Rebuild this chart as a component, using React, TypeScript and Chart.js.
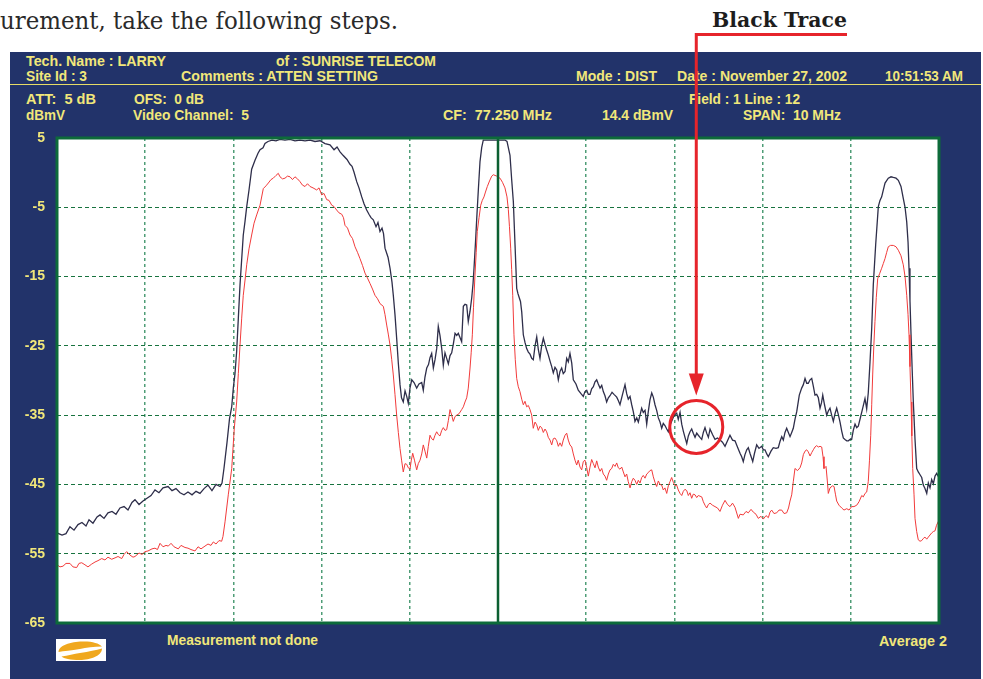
import React, { useEffect, useRef } from "react";
import { Chart, registerables } from "chart.js";

Chart.register(...registerables);

// ---- data ----
const startFreqMHz = 72.25;
const stopFreqMHz = 82.25;
const centerFreqMHz = 77.25;
const refLevel = 5;
const bottomLevel = -65;
const levelTicks = [5, -5, -15, -25, -35, -45, -55, -65];
const gridFreqs = [72.25, 73.25, 74.25, 75.25, 76.25, 77.25, 78.25, 79.25, 80.25, 81.25, 82.25];
const highlightFreq = 79.498;
const highlightLevel = -36.7;

// Black trace: [frequency MHz, level dBmV]
const blackTrace: [number, number][] = [
  [72.250,-52.0],[72.307,-52.3],[72.352,-52.1],[72.397,-51.1],[72.443,-51.6],[72.488,-50.8],[72.533,-50.5],[72.579,-51.0],[72.613,-50.1],[72.658,-50.6],
  [72.704,-49.7],[72.738,-49.4],[72.783,-49.9],[72.828,-49.1],[72.874,-48.9],[72.919,-49.3],[72.964,-48.4],[73.010,-48.2],[73.055,-48.7],[73.100,-47.6],
  [73.134,-47.2],[73.180,-47.9],[73.225,-47.4],[73.270,-47.0],[73.316,-46.6],[73.361,-45.8],[73.406,-46.2],[73.452,-45.5],[73.509,-45.3],[73.554,-45.9],
  [73.599,-45.6],[73.645,-46.2],[73.690,-46.5],[73.735,-46.1],[73.781,-46.5],[73.826,-46.0],[73.871,-46.3],[73.917,-45.6],[73.962,-45.1],[74.007,-45.9],
  [74.053,-45.0],[74.098,-45.3],[74.121,-44.8],[74.143,-42.7],[74.177,-39.0],[74.206,-35.5],[74.231,-33.8],[74.249,-31.1],[74.268,-29.0],[74.287,-25.8],
  [74.306,-21.0],[74.325,-16.2],[74.344,-12.5],[74.362,-9.0],[74.382,-7.0],[74.401,-4.9],[74.427,-2.5],[74.457,0.5],[74.495,1.8],[74.529,2.8],
  [74.552,3.3],[74.586,3.6],[74.608,4.2],[74.642,4.5],[74.688,4.7],[74.733,4.6],[74.778,4.8],[74.835,4.7],[74.892,4.8],[74.948,4.6],
  [75.005,4.7],[75.062,4.6],[75.119,4.7],[75.175,4.5],[75.232,4.6],[75.289,4.2],[75.345,4.0],[75.391,3.3],[75.425,3.7],[75.459,3.0],
  [75.493,2.5],[75.538,1.9],[75.572,1.2],[75.595,0.9],[75.617,0.1],[75.648,-1.3],[75.674,-2.2],[75.705,-3.5],[75.731,-4.5],[75.761,-5.4],
  [75.787,-6.0],[75.810,-6.5],[75.836,-6.8],[75.867,-7.8],[75.889,-7.2],[75.912,-8.5],[75.935,-8.0],[75.952,-8.8],[75.969,-10.9],[76.003,-12.2],
  [76.026,-13.8],[76.048,-15.8],[76.063,-17.7],[76.082,-20.5],[76.101,-23.9],[76.120,-27.5],[76.139,-30.6],[76.156,-32.5],[76.176,-33.1],[76.196,-31.5],
  [76.215,-32.3],[76.233,-33.3],[76.252,-31.1],[76.272,-29.9],[76.298,-30.3],[76.328,-31.1],[76.354,-30.5],[76.385,-30.3],[76.403,-31.4],[76.422,-29.5],
  [76.442,-28.2],[76.462,-27.7],[76.479,-26.7],[76.498,-26.1],[76.517,-28.2],[76.536,-27.0],[76.555,-25.4],[76.573,-22.2],[76.592,-23.5],[76.612,-25.4],
  [76.630,-27.8],[76.649,-26.0],[76.668,-26.8],[76.687,-27.6],[76.706,-26.4],[76.725,-26.0],[76.743,-24.8],[76.763,-23.2],[76.782,-23.5],[76.800,-23.2],
  [76.819,-23.8],[76.838,-24.4],[76.857,-19.3],[76.876,-19.0],[76.895,-19.1],[76.913,-21.5],[76.933,-20.0],[76.952,-18.1],[76.967,-16.0],[76.978,-13.8],
  [76.995,-10.0],[77.009,-6.6],[77.027,-2.5],[77.046,1.6],[77.065,3.6],[77.083,4.7],[77.159,4.7],[77.250,4.7],[77.329,4.7],[77.352,4.5],
  [77.386,2.5],[77.405,-1.0],[77.424,-4.2],[77.443,-10.4],[77.462,-16.7],[77.477,-17.5],[77.492,-18.1],[77.505,-18.6],[77.519,-20.1],[77.537,-23.4],
  [77.556,-24.5],[77.575,-25.4],[77.594,-25.9],[77.613,-26.2],[77.632,-26.8],[77.650,-27.0],[77.670,-25.0],[77.689,-23.7],[77.707,-25.5],[77.726,-26.8],
  [77.745,-25.0],[77.764,-23.9],[77.783,-24.8],[77.802,-25.6],[77.820,-26.3],[77.840,-27.2],[77.859,-28.0],[77.877,-28.9],[77.896,-28.1],[77.916,-28.5],
  [77.934,-29.9],[77.953,-28.7],[77.972,-28.2],[77.990,-29.0],[78.010,-28.7],[78.029,-26.8],[78.047,-27.3],[78.066,-26.1],[78.086,-27.5],[78.104,-29.9],
  [78.134,-30.5],[78.160,-31.4],[78.191,-31.9],[78.217,-32.3],[78.236,-31.6],[78.256,-31.4],[78.274,-32.0],[78.293,-32.0],[78.312,-31.2],[78.331,-30.9],
  [78.350,-30.2],[78.369,-29.9],[78.387,-30.5],[78.407,-31.1],[78.426,-30.7],[78.444,-31.6],[78.463,-32.2],[78.482,-33.1],[78.501,-32.5],[78.520,-32.2],
  [78.543,-31.7],[78.565,-32.0],[78.596,-32.4],[78.614,-32.9],[78.633,-33.5],[78.662,-32.0],[78.690,-30.6],[78.709,-31.9],[78.727,-32.7],[78.747,-32.3],
  [78.766,-33.5],[78.784,-34.5],[78.803,-35.9],[78.823,-35.4],[78.841,-36.0],[78.860,-35.0],[78.879,-34.0],[78.897,-34.6],[78.917,-34.3],[78.936,-36.3],
  [78.954,-34.5],[78.973,-32.8],[78.993,-31.8],[79.011,-32.4],[79.030,-33.5],[79.049,-34.3],[79.068,-35.4],[79.087,-36.0],[79.106,-36.9],[79.124,-36.2],
  [79.143,-36.5],[79.163,-37.0],[79.181,-37.4],[79.200,-36.5],[79.219,-35.9],[79.238,-35.3],[79.257,-34.9],[79.276,-34.7],[79.294,-35.6],[79.314,-34.6],
  [79.333,-36.3],[79.351,-37.3],[79.370,-38.2],[79.390,-39.1],[79.408,-38.0],[79.427,-37.4],[79.446,-37.0],[79.464,-37.6],[79.484,-38.2],[79.503,-37.6],
  [79.521,-37.9],[79.540,-38.2],[79.560,-38.5],[79.578,-37.5],[79.597,-36.8],[79.616,-37.6],[79.635,-38.2],[79.654,-37.0],[79.682,-37.8],[79.710,-38.5],
  [79.739,-38.3],[79.767,-38.6],[79.795,-38.9],[79.824,-39.5],[79.852,-38.7],[79.880,-37.9],[79.909,-38.6],[79.937,-38.7],[79.965,-39.6],[79.994,-40.5],
  [80.013,-41.0],[80.031,-41.7],[80.050,-40.7],[80.070,-40.0],[80.088,-39.7],[80.107,-40.5],[80.138,-41.7],[80.158,-40.5],[80.183,-39.3],[80.209,-39.8],
  [80.240,-39.5],[80.258,-40.0],[80.277,-40.0],[80.297,-40.6],[80.315,-41.0],[80.345,-40.2],[80.371,-39.7],[80.402,-39.8],[80.428,-39.7],[80.447,-38.8],
  [80.467,-38.1],[80.485,-38.6],[80.504,-37.5],[80.523,-36.9],[80.542,-37.5],[80.561,-38.1],[80.580,-37.5],[80.598,-36.9],[80.617,-35.6],[80.637,-34.5],
  [80.655,-33.0],[80.666,-32.1],[80.693,-31.1],[80.712,-30.6],[80.731,-29.7],[80.750,-30.4],[80.768,-30.4],[80.788,-29.9],[80.807,-29.7],[80.825,-30.8],
  [80.844,-32.1],[80.863,-32.0],[80.882,-32.5],[80.901,-34.0],[80.918,-33.2],[80.932,-32.1],[80.952,-33.5],[80.977,-35.0],[80.995,-34.4],[81.014,-34.0],
  [81.033,-35.0],[81.052,-35.9],[81.071,-34.8],[81.090,-34.0],[81.108,-34.9],[81.128,-36.0],[81.147,-37.3],[81.165,-38.3],[81.184,-38.5],[81.204,-38.7],
  [81.222,-38.7],[81.241,-38.5],[81.260,-38.5],[81.278,-37.2],[81.298,-36.3],[81.317,-36.8],[81.335,-36.6],[81.360,-35.3],[81.385,-34.0],[81.411,-32.6],
  [81.430,-34.1],[81.448,-31.8],[81.468,-27.3],[81.487,-22.5],[81.505,-16.2],[81.532,-10.4],[81.562,-4.9],[81.581,-4.0],[81.600,-3.5],[81.619,-2.5],
  [81.638,-1.5],[81.675,-0.8],[81.706,-0.6],[81.732,-0.7],[81.763,-0.8],[81.789,-1.1],[81.819,-2.0],[81.845,-3.7],[81.865,-5.0],[81.884,-7.1],
  [81.899,-10.0],[81.910,-13.8],[81.921,-18.5],[81.933,-23.4],[81.946,-28.5],[81.959,-33.1],[81.978,-38.5],[81.997,-42.7],[82.015,-43.2],[82.035,-43.6],
  [82.054,-44.0],[82.072,-45.1],[82.091,-45.6],[82.111,-46.3],[82.129,-44.8],[82.148,-45.5],[82.167,-44.3],[82.186,-44.9],[82.205,-43.8],[82.224,-43.4],
  [82.244,-43.9],
];

// Red trace: [frequency MHz, level dBmV]
const redTrace: [number, number][] = [
  [72.250,-56.6],[72.284,-56.9],[72.318,-56.8],[72.352,-56.4],[72.397,-56.4],[72.431,-56.9],[72.473,-57.0],[72.499,-56.4],[72.530,-56.3],[72.567,-56.6],
  [72.601,-56.9],[72.643,-56.5],[72.681,-56.2],[72.715,-56.0],[72.757,-55.7],[72.794,-55.9],[72.828,-55.5],[72.870,-55.8],[72.908,-55.6],[72.942,-55.4],
  [72.984,-55.7],[73.010,-55.1],[73.040,-54.7],[73.078,-55.2],[73.112,-55.5],[73.134,-55.4],[73.180,-54.9],[73.214,-55.1],[73.248,-54.7],[73.282,-54.6],
  [73.327,-54.3],[73.361,-54.2],[73.389,-54.4],[73.418,-53.5],[73.452,-54.0],[73.486,-53.8],[73.512,-53.9],[73.543,-53.5],[73.577,-54.0],[73.625,-54.3],
  [73.656,-53.8],[73.701,-54.1],[73.735,-54.2],[73.769,-54.4],[73.815,-54.6],[73.849,-54.0],[73.883,-54.3],[73.928,-53.9],[73.962,-53.6],[73.996,-53.8],
  [74.022,-53.3],[74.053,-53.6],[74.087,-53.1],[74.117,-53.2],[74.132,-52.5],[74.155,-50.4],[74.192,-46.5],[74.231,-42.7],[74.260,-36.9],[74.287,-33.1],
  [74.306,-29.0],[74.325,-24.9],[74.344,-21.0],[74.362,-17.7],[74.382,-15.5],[74.401,-13.3],[74.427,-11.0],[74.457,-9.0],[74.484,-7.3],[74.514,-6.1],
  [74.552,-4.7],[74.589,-2.3],[74.620,-1.9],[74.646,-1.5],[74.676,-1.0],[74.702,-0.8],[74.733,-0.4],[74.759,-0.1],[74.778,-0.6],[74.807,-0.9],
  [74.835,-0.8],[74.863,-0.5],[74.892,-0.6],[74.920,-1.0],[74.948,-0.6],[74.977,-0.9],[75.005,-1.3],[75.033,-1.8],[75.062,-2.0],[75.090,-1.6],
  [75.119,-2.0],[75.153,-2.2],[75.194,-2.5],[75.221,-2.2],[75.251,-3.2],[75.277,-3.0],[75.308,-3.9],[75.334,-4.0],[75.365,-4.7],[75.391,-4.9],
  [75.421,-5.4],[75.447,-5.8],[75.478,-6.0],[75.498,-6.5],[75.515,-7.6],[75.544,-8.0],[75.572,-9.0],[75.600,-9.5],[75.629,-10.7],[75.657,-11.5],
  [75.685,-12.4],[75.714,-13.4],[75.742,-14.5],[75.770,-15.2],[75.799,-16.0],[75.827,-16.8],[75.855,-17.7],[75.884,-18.2],[75.912,-18.9],[75.950,-19.3],
  [75.969,-20.5],[75.988,-22.0],[76.006,-23.3],[76.026,-24.9],[76.045,-27.0],[76.063,-29.2],[76.082,-32.0],[76.101,-35.0],[76.120,-37.5],[76.139,-39.8],
  [76.158,-41.6],[76.176,-43.2],[76.196,-42.0],[76.215,-42.1],[76.233,-42.6],[76.252,-42.8],[76.267,-41.5],[76.283,-40.5],[76.303,-41.5],[76.328,-42.9],
  [76.346,-42.0],[76.366,-41.5],[76.385,-40.6],[76.403,-39.3],[76.422,-40.2],[76.442,-41.2],[76.460,-39.5],[76.479,-37.9],[76.498,-38.4],[76.517,-38.6],
  [76.536,-37.9],[76.555,-37.4],[76.573,-37.8],[76.592,-38.0],[76.612,-37.2],[76.630,-36.8],[76.649,-37.2],[76.668,-37.1],[76.687,-35.8],[76.706,-34.2],
  [76.725,-35.0],[76.743,-35.9],[76.763,-35.2],[76.782,-35.0],[76.808,-34.8],[76.838,-34.2],[76.857,-33.8],[76.876,-33.1],[76.895,-32.5],[76.913,-31.1],
  [76.933,-28.2],[76.946,-26.0],[76.959,-23.4],[76.972,-19.5],[76.989,-14.8],[77.003,-11.5],[77.015,-8.5],[77.035,-6.5],[77.054,-4.7],[77.072,-4.0],
  [77.091,-3.5],[77.108,-2.8],[77.129,-2.0],[77.154,-1.2],[77.179,-0.5],[77.197,-0.3],[77.216,-0.4],[77.235,-0.5],[77.256,-0.7],[77.273,-0.8],
  [77.301,-1.4],[77.329,-2.2],[77.352,-3.5],[77.367,-5.3],[77.380,-7.8],[77.394,-10.9],[77.405,-14.0],[77.417,-17.7],[77.431,-23.4],[77.446,-27.0],
  [77.462,-29.7],[77.480,-30.9],[77.499,-31.6],[77.519,-32.7],[77.537,-33.5],[77.556,-33.0],[77.575,-33.8],[77.594,-33.6],[77.613,-34.2],[77.632,-35.0],
  [77.650,-36.9],[77.670,-36.0],[77.689,-36.4],[77.707,-37.2],[77.726,-36.6],[77.745,-36.8],[77.764,-37.5],[77.783,-37.0],[77.802,-37.4],[77.820,-38.2],
  [77.840,-38.6],[77.859,-39.3],[77.877,-38.4],[77.896,-38.3],[77.916,-38.7],[77.934,-39.5],[77.953,-39.0],[77.972,-39.5],[77.990,-38.6],[78.010,-37.9],
  [78.029,-37.6],[78.047,-38.6],[78.066,-39.3],[78.086,-39.6],[78.104,-40.6],[78.123,-41.5],[78.142,-42.2],[78.160,-41.5],[78.180,-42.5],[78.199,-42.9],
  [78.217,-41.7],[78.236,-41.5],[78.256,-42.6],[78.274,-43.8],[78.293,-42.5],[78.312,-41.4],[78.331,-42.0],[78.350,-42.6],[78.369,-41.6],[78.387,-42.5],
  [78.407,-43.1],[78.426,-42.7],[78.444,-43.5],[78.463,-43.8],[78.482,-44.4],[78.501,-43.5],[78.520,-42.9],[78.539,-42.7],[78.557,-42.1],[78.577,-42.4],
  [78.596,-41.9],[78.614,-42.6],[78.633,-42.8],[78.653,-42.5],[78.671,-43.2],[78.690,-43.9],[78.709,-43.5],[78.727,-44.6],[78.747,-45.5],[78.766,-44.6],
  [78.784,-44.1],[78.803,-44.4],[78.823,-45.0],[78.841,-44.4],[78.860,-44.8],[78.879,-44.0],[78.897,-43.7],[78.917,-44.1],[78.936,-43.5],[78.954,-43.3],
  [78.973,-43.0],[78.993,-42.9],[79.011,-43.9],[79.030,-44.7],[79.049,-45.3],[79.068,-44.5],[79.087,-45.0],[79.106,-45.1],[79.124,-45.8],[79.143,-45.5],
  [79.163,-46.3],[79.181,-45.2],[79.200,-44.6],[79.219,-44.0],[79.238,-44.7],[79.257,-45.2],[79.276,-45.1],[79.294,-45.8],[79.314,-46.3],[79.333,-46.6],
  [79.351,-46.0],[79.370,-45.7],[79.390,-45.9],[79.408,-46.6],[79.427,-46.2],[79.446,-47.0],[79.464,-46.4],[79.484,-46.5],[79.503,-46.9],[79.521,-46.6],
  [79.540,-46.7],[79.560,-46.8],[79.578,-47.5],[79.597,-48.0],[79.616,-48.4],[79.635,-47.9],[79.654,-47.7],[79.682,-48.0],[79.710,-48.2],[79.739,-48.4],
  [79.767,-48.9],[79.795,-48.0],[79.824,-47.3],[79.852,-47.9],[79.880,-48.2],[79.909,-47.7],[79.937,-48.3],[79.975,-49.9],[79.994,-49.3],[80.031,-49.4],
  [80.062,-48.9],[80.088,-49.1],[80.119,-48.6],[80.145,-49.0],[80.175,-49.3],[80.201,-49.9],[80.232,-49.6],[80.258,-50.0],[80.289,-49.5],[80.315,-49.8],
  [80.334,-49.0],[80.353,-48.7],[80.379,-49.2],[80.410,-49.1],[80.436,-48.7],[80.467,-48.7],[80.493,-49.2],[80.523,-49.1],[80.544,-48.4],[80.561,-47.4],
  [80.580,-46.5],[80.598,-44.6],[80.617,-42.7],[80.646,-43.0],[80.674,-42.6],[80.693,-41.9],[80.712,-40.7],[80.731,-40.2],[80.750,-40.0],[80.768,-40.3],
  [80.788,-40.9],[80.807,-40.4],[80.825,-40.0],[80.844,-39.6],[80.863,-39.4],[80.882,-39.6],[80.901,-39.5],[80.920,-39.6],[80.935,-41.0],[80.946,-42.7],
  [80.969,-42.4],[80.984,-44.5],[80.995,-46.3],[81.014,-45.5],[81.043,-45.2],[81.060,-45.3],[81.077,-46.5],[81.090,-47.4],[81.116,-48.0],[81.147,-48.4],
  [81.173,-48.7],[81.204,-48.5],[81.230,-48.7],[81.260,-48.2],[81.286,-48.2],[81.317,-48.0],[81.343,-47.5],[81.374,-46.6],[81.392,-46.8],[81.411,-46.3],
  [81.430,-46.1],[81.448,-44.6],[81.462,-41.5],[81.476,-37.9],[81.487,-33.5],[81.498,-29.2],[81.511,-25.0],[81.524,-21.5],[81.539,-18.0],[81.555,-15.3],
  [81.576,-14.6],[81.600,-13.8],[81.619,-13.1],[81.638,-12.4],[81.657,-11.5],[81.675,-10.7],[81.700,-10.5],[81.732,-10.5],[81.763,-10.7],[81.789,-11.2],
  [81.819,-12.0],[81.845,-13.3],[81.865,-15.0],[81.884,-17.7],[81.899,-20.5],[81.910,-23.4],[81.921,-28.0],[81.933,-33.1],[81.942,-38.0],[81.952,-42.7],
  [81.967,-46.5],[81.978,-49.9],[81.997,-51.8],[82.015,-53.0],[82.035,-53.2],[82.054,-53.1],[82.072,-52.8],[82.091,-52.6],[82.111,-52.9],[82.129,-52.6],
  [82.148,-52.3],[82.167,-52.0],[82.186,-51.8],[82.205,-51.7],[82.222,-50.9],[82.244,-50.3],
];

// ---- header texts: [text, x, baseline y, width] ----
const headerTexts: [string, number, number, number][] = [
  ["Tech. Name : LARRY", 26, 65.5, 140],
  ["of : SUNRISE TELECOM", 276, 65.5, 160],
  ["Site Id : 3", 26, 81, 61],
  ["Comments : ATTEN SETTING", 181, 81, 197],
  ["Mode : DIST", 576, 81, 81],
  ["Date : November 27, 2002", 677, 81, 170],
  ["10:51:53 AM", 885, 81, 78],
  ["ATT:  5 dB", 26, 104, 70],
  ["OFS:  0 dB", 134, 104, 70],
  ["Field : 1 Line : 12", 689, 104, 111],
  ["dBmV", 26, 120, 39],
  ["Video Channel:  5", 133, 120, 116],
  ["CF:  77.250 MHz", 443, 120, 109],
  ["14.4 dBmV", 602, 120, 71],
  ["SPAN:  10 MHz", 743, 120, 98],
  ["Measurement not done", 167, 644.5, 151],
  ["Average 2", 879, 646, 68],
];

const NAVY = "#22336a";
const YELLOW = "#f1e77a";
const GREEN_DARK = "#0d6b3a";
const ANNOT_RED = "#e6242b";

const framePlugin = {
  id: "frame",
  beforeDraw(chart: any) {
    const { ctx, chartArea } = chart;
    ctx.save();
    ctx.fillStyle = "#ffffff";
    ctx.fillRect(chartArea.left, chartArea.top, chartArea.right - chartArea.left, chartArea.bottom - chartArea.top);
    ctx.restore();
  },
  afterDatasetsDraw(chart: any) {
    const { ctx, chartArea, scales } = chart;
    ctx.save();
    const cx = Math.round(scales.x.getPixelForValue(centerFreqMHz));
    ctx.strokeStyle = "#0b5f31";
    ctx.lineWidth = 2.5;
    ctx.beginPath();
    ctx.moveTo(cx, chartArea.top);
    ctx.lineTo(cx, chartArea.bottom);
    ctx.stroke();
    ctx.strokeStyle = GREEN_DARK;
    ctx.lineWidth = 3;
    ctx.strokeRect(chartArea.left, chartArea.top, chartArea.right - chartArea.left, chartArea.bottom - chartArea.top);
    ctx.restore();
  },
  afterDraw(chart: any) {
    const { ctx, scales } = chart;
    const x = scales.x.getPixelForValue(highlightFreq);
    const y = scales.y.getPixelForValue(highlightLevel);
    const r = 26.5;
    ctx.save();
    ctx.strokeStyle = ANNOT_RED;
    ctx.fillStyle = ANNOT_RED;
    ctx.lineWidth = 3;
    ctx.beginPath();
    ctx.arc(x, y, r, 0, Math.PI * 2);
    ctx.stroke();
    const labelY = 34.5;
    const labelRight = 847;
    const headBase = y - r - 27;
    const tip = y - r - 5;
    ctx.beginPath();
    ctx.moveTo(labelRight, labelY);
    ctx.lineTo(x, labelY);
    ctx.lineTo(x, headBase + 2);
    ctx.stroke();
    ctx.beginPath();
    ctx.moveTo(x - 7.5, headBase);
    ctx.lineTo(x + 7.5, headBase);
    ctx.lineTo(x, tip);
    ctx.closePath();
    ctx.fill();
    ctx.restore();
  },
};

export default function App() {
  const canvasRef = useRef<HTMLCanvasElement | null>(null);

  useEffect(() => {
    const canvas = canvasRef.current;
    if (!canvas) return;
    const chart = new Chart(canvas, {
      type: "line",
      data: {
        datasets: [
          {
            label: "Red trace",
            data: redTrace.map(([f, v]) => ({ x: f, y: v })),
            borderColor: "#f23b3b",
            borderWidth: 1,
            pointRadius: 0,
            tension: 0,
          },
          {
            label: "Black trace",
            data: blackTrace.map(([f, v]) => ({ x: f, y: v })),
            borderColor: "#2e2e4a",
            borderWidth: 1.3,
            pointRadius: 0,
            tension: 0,
          },
        ],
      },
      options: {
        animation: false,
        responsive: false,
        maintainAspectRatio: false,
        devicePixelRatio: 1,
        layout: { padding: { top: 138, right: 44, bottom: 56, left: 0 } },
        plugins: { legend: { display: false }, tooltip: { enabled: false } },
        scales: {
          x: {
            type: "linear",
            min: startFreqMHz,
            max: stopFreqMHz,
            afterBuildTicks: (s: any) => {
              s.ticks = gridFreqs.map((v) => ({ value: v }));
            },
            ticks: { display: false },
            grid: {
              drawTicks: false,
              lineWidth: 1.5,
              color: (c: any) =>
                c.tick && Math.abs(c.tick.value - centerFreqMHz) < 1e-6 ? "rgba(0,0,0,0)" : "#4f9d77",
            },
            border: { display: false, dash: [3, 3] },
          },
          y: {
            type: "linear",
            min: bottomLevel,
            max: refLevel,
            afterBuildTicks: (s: any) => {
              s.ticks = levelTicks.map((v) => ({ value: v }));
            },
            afterFit: (s: any) => {
              s.width = 57;
            },
            ticks: {
              color: YELLOW,
              padding: 12,
              font: { family: "'Liberation Sans', Arial, sans-serif", size: 14, weight: "bold" },
            },
            grid: { drawTicks: false, lineWidth: 1, color: "#18733f" },
            border: { display: false, dash: [4, 3] },
          },
        },
      },
      plugins: [framePlugin],
    } as any);
    return () => chart.destroy();
  }, []);

  return (
    <div style={{ position: "fixed", left: 0, top: 0, width: 983, height: 679, background: "#ffffff", overflow: "hidden" }}>
      <svg width={983} height={679} style={{ position: "absolute", left: 0, top: 0 }}>
        <text x={0} y={29} fontFamily="'DejaVu Serif', serif" fontSize={24} fill="#2a2a2a" textLength={398} lengthAdjust="spacingAndGlyphs">
          urement, take the following steps.
        </text>
        <text x={712} y={27} fontFamily="'DejaVu Serif', serif" fontWeight="bold" fontSize={20} fill="#1d1d1d" textLength={135} lengthAdjust="spacingAndGlyphs">
          Black Trace
        </text>
        <rect x={10} y={52} width={971} height={627} fill={NAVY} />
        <line x1={10} y1={84.5} x2={981} y2={84.5} stroke="#e6dc66" strokeWidth={1} />
        {headerTexts.map(([t, x, y, w], i) => (
          <text
            key={i}
            x={x}
            y={y}
            fill={YELLOW}
            fontFamily="'Liberation Sans', Arial, sans-serif"
            fontWeight="bold"
            fontSize={14}
            textLength={w}
            lengthAdjust="spacingAndGlyphs"
            style={{ whiteSpace: "pre" }}
          >
            {t}
          </text>
        ))}
        <g transform="translate(56,639)">
          <rect x={0} y={0} width={50} height={22} fill="#ffffff" />
          <path d="M2.5 13 C3 5, 18 2.5, 28 2.5 C37 2.5, 43 4.5, 46 7.5 C38 7.5, 30 8.5, 24 10 C15 11.5, 8 12, 2.5 13 Z" fill="#f0a81e" />
          <path d="M46 9.5 C46 17, 34 21, 24 21 C14 21, 8 19.5, 5.5 17.5 C12 16.5, 18 15, 24 14 C33 12.5, 40 11, 46 9.5 Z" fill="#f0a81e" />
        </g>
      </svg>
      <canvas
        ref={canvasRef}
        width={983}
        height={679}
        style={{ position: "absolute", left: 0, top: 0, width: 983, height: 679 }}
      />
    </div>
  );
}
